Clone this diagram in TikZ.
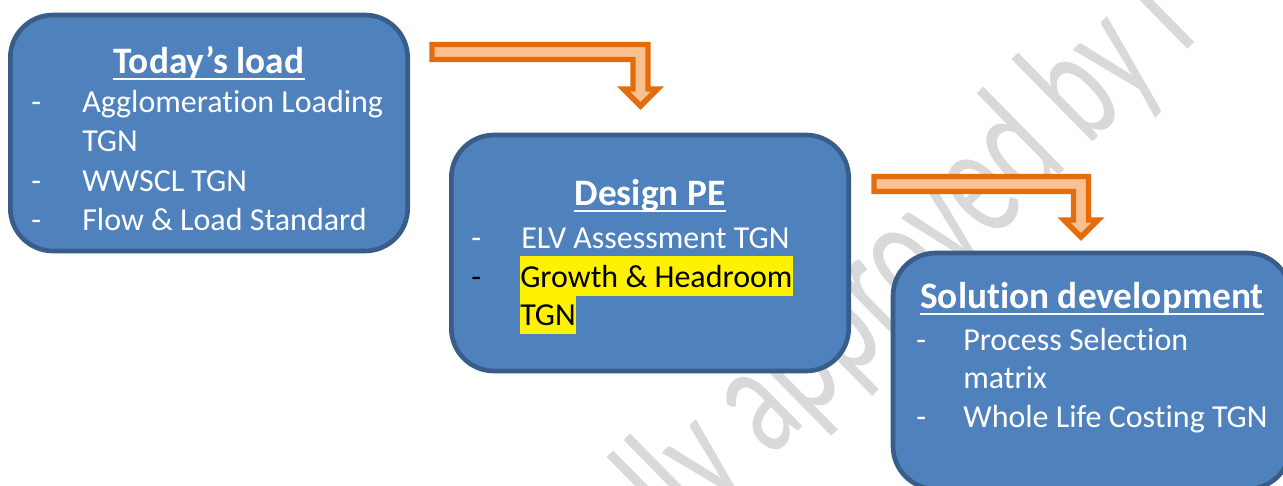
\documentclass[tikz,border=0pt]{standalone}
\usepackage{fontspec}
\setmainfont{Carlito}[Ligatures={NoCommon}]
\usetikzlibrary{calc}

\definecolor{boxblue}{HTML}{4F81BD}
\definecolor{boxedge}{HTML}{385D8A}
\definecolor{arroworange}{HTML}{E46C0A}
\definecolor{arrowfill}{HTML}{FAC090}

\begin{document}
\begin{tikzpicture}[
		x=0.75pt, y=-0.75pt,
		box/.style={rectangle, rounded corners=32pt, draw=boxedge, fill=boxblue, line width=3.5pt, minimum width=298pt, minimum height=177pt},
		head/.style={inner sep=0pt, text=white, font=\fontsize{28}{34}\selectfont\bfseries, anchor=base},
		item/.style={inner sep=0pt, text=white, font=\fontsize{24}{29}\selectfont, anchor=base west},
		hl/.style={item, text=black, fill=yellow, text height=22.9pt, text depth=6.5pt},
		uline/.style={white, line width=2pt},
		bent/.style={draw=arroworange, fill=arrowfill, line width=4pt, line join=miter},
		watermark/.style={inner sep=0pt, text=black!15, font=\fontsize{125}{125}\selectfont, anchor=base west}
	]
  \useasboundingbox (0,0) rectangle (1283,486);
  \clip (0,0) rectangle (1283,486);
  \node (wm) [watermark, rotate=44.5, xscale=0.655] at (682,546) {lly approved by I};
  % bent arrows
  \coordinate (a1t) at (432,52);
  \coordinate (a1p) at (640.5,106);
  \coordinate (a2t) at (874,184);
  \coordinate (a2p) at (1081,237);
  \foreach \t/\p in {a1t/a1p, a2t/a2p}
    \draw[bent] ($(\t)+(0,-7.5)$) -- ($(\p |- \t)+(7.5,-7.5)$) -- ($(\p)+(7.5,-17)$) -- ($(\p)+(17,-17)$) -- (\p)
      -- ($(\p)+(-17,-17)$) -- ($(\p)+(-7.5,-17)$) -- ($(\p |- \t)+(-7.5,7.5)$) -- ($(\t)+(0,7.5)$) -- cycle;
  % boxes
  \node (today) [box] at (209,133) {};
  \node (design) [box] at (650,253) {};
  \node (solution) [box] at (1091.7,371) {};
  % today's load
  \node (h1) [head] at (209,73) {Today’s load};
  \draw[uline] ($(h1.base west)+(0,6)$) -- ($(h1.base east)+(0,6)$);
  \node (d1a) [item] at (31,112) {-};
  \node (t1a) [item] at (82,112) {Agglomeration Loading};
  \node (t1b) [item] at (82,151) {TGN};
  \node (d1c) [item] at (31,191) {-};
  \node (t1c) [item] at (82,191) {WWSCL TGN};
  \node (d1d) [item] at (31,230) {-};
  \node (t1d) [item] at (82,230) {Flow \& Load Standard};
  % design PE
  \node (h2) [head] at (650,205) {Design PE};
  \draw[uline] ($(h2.base west)+(0,6)$) -- ($(h2.base east)+(0,6)$);
  \node (d2a) [item] at (471,248) {-};
  \node (t2a) [item] at (521,248) {ELV Assessment TGN};
  \node (d2b) [item, text=black] at (471,287) {-};
  \node (t2b) [hl] at (520,287) {Growth \& Headroom};
  \node (t2c) [hl] at (520,325) {TGN};
  % solution development
  \node (h3) [head] at (1092,308) {Solution development};
  \draw[uline] ($(h3.base west)+(0,6)$) -- ($(h3.base east)+(0,6)$);
  \node (d3a) [item] at (916,350) {-};
  \node (t3a) [item] at (963,350) {Process Selection};
  \node (t3b) [item] at (963,388) {matrix};
  \node (d3c) [item] at (916,427) {-};
  \node (t3c) [item] at (963,427) {Whole Life Costing TGN};
\end{tikzpicture}
\end{document}
